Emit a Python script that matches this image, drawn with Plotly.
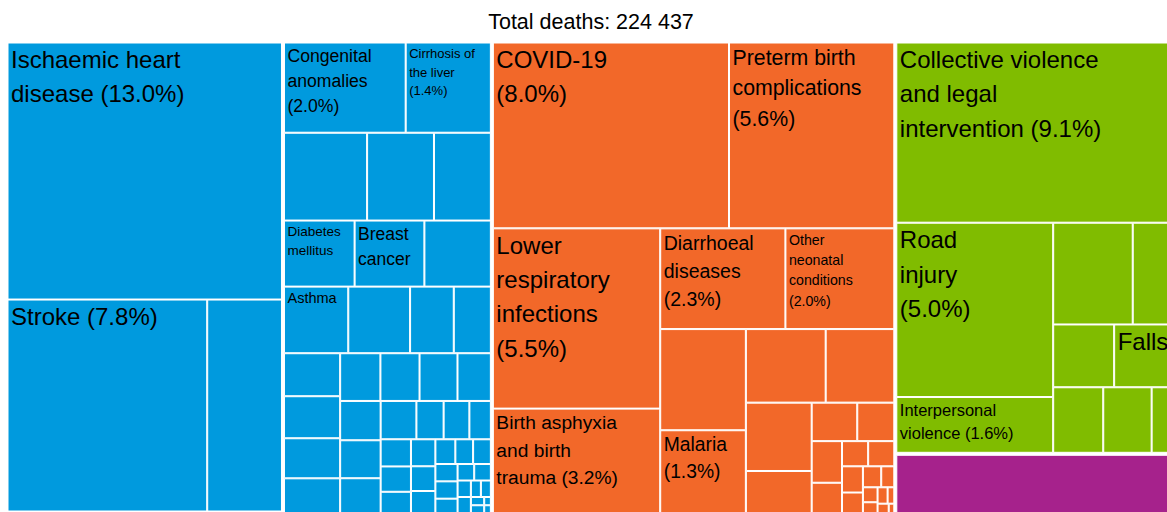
import plotly.graph_objects as go

title_text = "Total deaths: 224 437"

# share of all deaths (%) read off the tiles; "" = tile shows no label
cvd_text = ["Ischaemic heart|disease (13.0%)", "Stroke (7.8%)", ""]
cvd_share = [13.0, 7.8, 2.92]

ncd_text = ["Congenital|anomalies|(2.0%)", "Cirrhosis of|the liver|(1.4%)", "", "", "",
            "Diabetes|mellitus", "Breast|cancer", "", "Asthma"]
ncd_share = [2.0, 1.4, 1.33, 1.07, 0.91, 0.85, 0.84, 0.80, 0.78, 0.75, 0.53, 0.45,
             0.44, 0.43, 0.41, 0.36, 0.35, 0.34, 0.33, 0.29, 0.29, 0.28, 0.26,
             0.25, 0.19, 0.18, 0.15, 0.15, 0.14, 0.12, 0.12, 0.11, 0.10, 0.09,
             0.08, 0.08, 0.07, 0.07, 0.06, 0.05, 0.05, 0.04, 0.04, 0.03, 0.03,
             0.02, 0.02, 0.01, 0.01]

cmpn_text = ["COVID-19|(8.0%)", "Preterm birth|complications|(5.6%)",
             "Lower|respiratory|infections|(5.5%)",
             "Birth asphyxia|and birth|trauma (3.2%)",
             "Diarrhoeal|diseases|(2.3%)",
             "Other|neonatal|conditions|(2.0%)", "", "Malaria|(1.3%)"]
cmpn_share = [8.0, 5.6, 5.5, 3.2, 2.3, 2.0, 1.58, 1.3, 1.07, 0.92, 0.82, 0.51,
              0.32, 0.26, 0.23, 0.17, 0.12, 0.12, 0.10, 0.08, 0.07, 0.05, 0.04,
              0.03, 0.03, 0.02, 0.02, 0.01]

inj_text = ["Collective violence|and legal|intervention (9.1%)",
            "Road|injury|(5.0%)", "Interpersonal|violence (1.6%)",
            "", "", "", "Falls"]
inj_share = [9.1, 5.0, 1.6, 1.48, 0.74, 0.70, 0.67, 0.60, 0.58, 0.25]

other_text = [""]
other_share = [3.05]

# styling
blue, orange, green, purple = "#009ADE", "#F26829", "#80BC00", "#A6228C"
FONT = "Liberation Sans, Arial, sans-serif"
# glyph size per labelled tile (px); the labels were shrunk to fit their tiles
label_size = {"cvd_0": 24, "cvd_1": 24, "ncd_0": 17.6, "ncd_1": 13, "ncd_5": 13.5,
              "ncd_6": 17.5, "ncd_8": 14.5, "cmpn_0": 24, "cmpn_1": 21.3,
              "cmpn_2": 24, "cmpn_3": 19.2, "cmpn_4": 19.5, "cmpn_5": 14.2,
              "cmpn_7": 19.3, "inj_0": 24, "inj_1": 24, "inj_2": 16.5, "inj_6": 24}
LINE_GAP = 1.1  # wider line pitch than plotly's default 1.3em

ids, parents, values, texts, colors, sizes = ["root"], [""], [0], [""], ["white"], [12]


def add_branch(node, parent):
    ids.append(node)
    parents.append(parent)
    values.append(0)
    texts.append("")
    colors.append("white")
    sizes.append(12)


def add_leaves(prefix, parent, shares, labels, color):
    for i, v in enumerate(shares):
        node = f"{prefix}_{i}"
        lab = labels[i] if i < len(labels) else ""
        s = label_size.get(node, 12)
        ids.append(node)
        parents.append(parent)
        values.append(v)
        texts.append("<br>".join(f"<span style='font-size:{s}px'>{ln}</span>"
                                 for ln in lab.split("|")) if lab else "")
        colors.append(color)
        sizes.append(s * LINE_GAP)


add_branch("ncd", "root")
add_branch("cvd", "ncd")
add_leaves("cvd", "cvd", cvd_share, cvd_text, blue)
add_leaves("ncd", "ncd", ncd_share, ncd_text, blue)
add_branch("cmpn", "root")
add_leaves("cmpn", "cmpn", cmpn_share, cmpn_text, orange)
add_branch("inj", "root")
add_leaves("inj", "inj", inj_share, inj_text, green)
add_branch("other", "root")
add_leaves("other", "other", other_share, other_text, purple)

fig = go.Figure(go.Treemap(
    ids=ids,
    labels=ids,
    parents=parents,
    values=values,
    text=texts,
    texttemplate="%{text}",
    textposition="top left",
    textfont=dict(family=FONT, size=sizes, color="black"),
    marker=dict(colors=colors, line=dict(color="white", width=1),
                pad=dict(t=0, l=0, r=2, b=2)),
    tiling=dict(pad=1, squarifyratio=1.25),
    pathbar=dict(visible=False),
    hoverinfo="skip",
))

# the chart runs a little past the window on the right and bottom, as in the original
W, H = 1176, 517
fig.update_layout(
    autosize=False,
    width=W,
    height=H,
    margin=dict(l=8, r=0, t=43, b=0),
    paper_bgcolor="white",
    title=dict(text=title_text, x=591 / W, xanchor="center", y=1 - 21 / H, yanchor="middle",
               font=dict(family=FONT, size=21.5, color="black")),
)

fig.write_html("out.html", config={"responsive": False, "displayModeBar": False},
               post_script="document.body.style.margin = '0'; document.body.style.overflow = 'hidden';")
